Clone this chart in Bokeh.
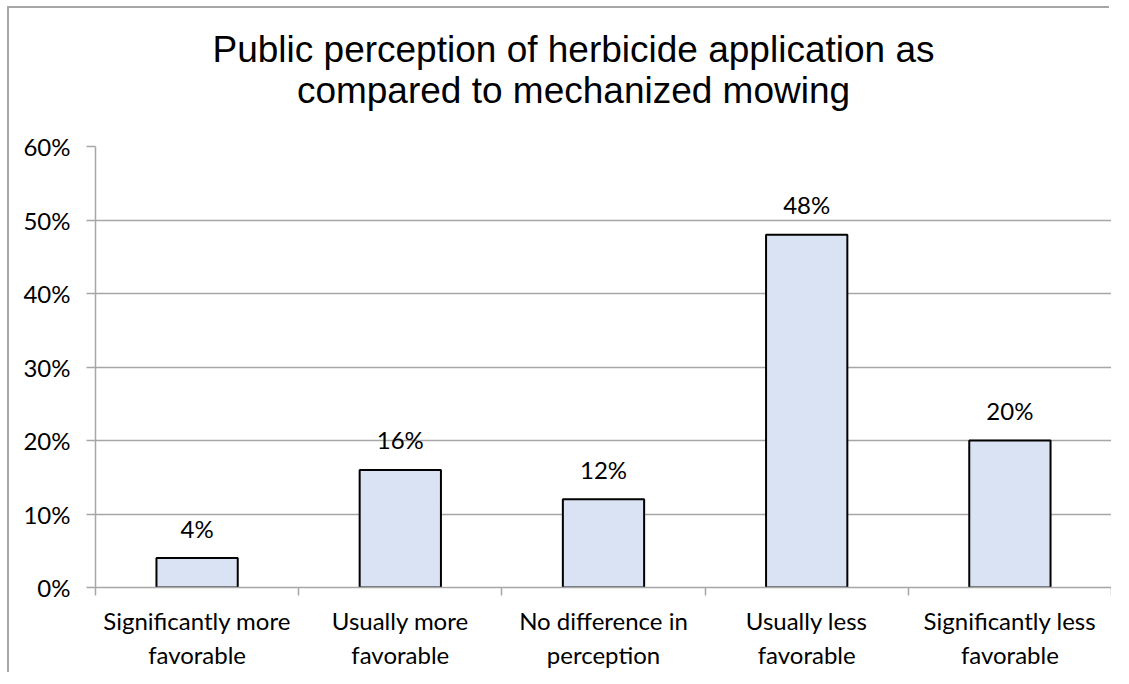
from bokeh.plotting import figure
from bokeh.models import ColumnDataSource, Range1d, FixedTicker, NumeralTickFormatter, Div
from bokeh.layouts import column
from bokeh.core.properties import value
from bokeh.embed import file_html
from bokeh.resources import INLINE

title_lines = ["Public perception of herbicide application as",
               "compared to mechanized mowing"]
categories = ["Significantly more\nfavorable", "Usually more\nfavorable",
              "No difference in\nperception", "Usually less\nfavorable",
              "Significantly less\nfavorable"]
values = [0.04, 0.16, 0.12, 0.48, 0.20]
y_ticks = [0.0, 0.1, 0.2, 0.3, 0.4, 0.5, 0.6]

xs = [i + 0.5 for i in range(len(categories))]
labels = [f"{round(v * 100)}%" for v in values]
src = ColumnDataSource(dict(x=xs, top=values, label=labels))

GRID = "#a6a6a6"
AXFONT = "Lato"
AXSIZE = "24px"
W = 1102

title = Div(text=(f'<div style="box-sizing:border-box;width:{W}px;padding-top:21px;padding-left:27px;'
                  'text-align:center;font-family:\'Liberation Sans\';font-size:37px;'
                  'line-height:41px;color:black">'
                  + "<br>".join(title_lines) + "</div>"),
            width=W, height=110, margin=0)

p = figure(width=W, height=556, output_backend="svg", toolbar_location=None,
           x_range=Range1d(0, len(categories)), y_range=Range1d(y_ticks[0], y_ticks[-1]),
           min_border_left=86, min_border_right=0, min_border_top=28, min_border_bottom=87,
           margin=0)
p.outline_line_color = None
p.background_fill_color = "white"
p.border_fill_color = "white"

p.vbar(x="x", top="top", width=0.4, source=src, fill_color="#dae3f3",
       line_color="black", line_width=2)
p.text(x="x", y="top", text="label", source=src, text_align="center",
       text_baseline="alphabetic", y_offset=-30, text_font=value(AXFONT),
       text_font_size=AXSIZE, text_color="black")

# y axis
p.yaxis.ticker = FixedTicker(ticks=y_ticks)
p.yaxis.formatter = NumeralTickFormatter(format="0%")
p.yaxis.axis_line_color = GRID
p.yaxis.axis_line_width = 1.5
p.yaxis.major_tick_line_color = GRID
p.yaxis.major_tick_line_width = 1.5
p.yaxis.major_tick_out = 9
p.yaxis.major_tick_in = 0
p.yaxis.minor_tick_line_color = None
p.yaxis.major_label_text_font = AXFONT
p.yaxis.major_label_text_font_size = AXSIZE
p.yaxis.major_label_text_color = "black"
p.yaxis.major_label_standoff = 16

# x axis: labels at centres, tick marks at category boundaries
p.xaxis.ticker = FixedTicker(ticks=xs, minor_ticks=list(range(len(categories) + 1)))
p.xaxis.major_label_overrides = {x: c for x, c in zip(xs, categories)}
p.xaxis.axis_line_color = GRID
p.xaxis.axis_line_width = 1.5
p.xaxis.major_tick_line_color = None
p.xaxis.major_tick_out = 0
p.xaxis.major_tick_in = 0
p.xaxis.minor_tick_line_color = GRID
p.xaxis.minor_tick_line_width = 1.5
p.xaxis.minor_tick_out = 8
p.xaxis.minor_tick_in = 0
p.xaxis.major_label_text_font = AXFONT
p.xaxis.major_label_text_font_size = AXSIZE
p.xaxis.major_label_text_color = "black"
p.xaxis.major_label_standoff = 10

p.xgrid.grid_line_color = None
p.ygrid.ticker = FixedTicker(ticks=y_ticks)
p.ygrid.grid_line_color = GRID
p.ygrid.grid_line_width = 1.5

layout = column(title, p, spacing=0,
                styles={"box-shadow": "-2px -2px 0px 0px #a6a6a6",
                        "margin-left": "9px", "margin-top": "8px",
                        "background-color": "white"})

open("out.html", "w").write(file_html(layout, INLINE))
